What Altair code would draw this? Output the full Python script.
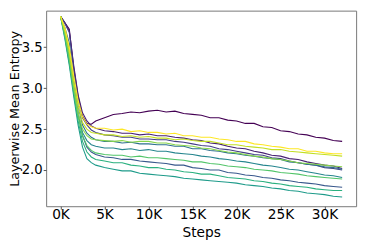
import altair as alt
import pandas as pd

# training steps (x positions of every sample)
steps = [0, 500, 1000, 1500, 2000, 2500, 3000, 3500, 4000,
         5000, 6000, 7000, 8000, 9000, 10000, 11000, 12000, 13000, 14000,
         15000, 16000, 17000, 18000, 19000, 20000, 21000, 22000, 23000, 24000,
         25000, 26000, 27000, 28000, 29000, 30000, 31000, 32000]

run_00 = [3.88, 3.80, 3.72, 3.25, 2.90, 2.66, 2.57, 2.56, 2.60,
          2.64, 2.68, 2.69, 2.71, 2.70, 2.72, 2.73, 2.71, 2.72, 2.69,
          2.68, 2.67, 2.64, 2.64, 2.61, 2.60, 2.57, 2.57, 2.53, 2.52,
          2.48, 2.47, 2.44, 2.43, 2.40, 2.39, 2.36, 2.35]
run_01 = [3.88, 3.80, 3.70, 3.28, 2.92, 2.70, 2.60, 2.54, 2.51,
          2.48, 2.47, 2.45, 2.45, 2.43, 2.44, 2.42, 2.42, 2.40, 2.39,
          2.37, 2.36, 2.33, 2.32, 2.29, 2.27, 2.26, 2.23, 2.21, 2.18,
          2.17, 2.14, 2.13, 2.10, 2.08, 2.06, 2.05, 2.02]
run_02 = [3.88, 3.79, 3.68, 3.22, 2.86, 2.64, 2.55, 2.49, 2.46,
          2.43, 2.42, 2.40, 2.40, 2.38, 2.38, 2.37, 2.37, 2.35, 2.34,
          2.32, 2.30, 2.29, 2.26, 2.25, 2.23, 2.21, 2.19, 2.18, 2.15,
          2.14, 2.11, 2.09, 2.07, 2.06, 2.03, 2.02, 2.00]
run_03 = [3.88, 3.70, 3.45, 3.05, 2.70, 2.42, 2.28, 2.22, 2.19,
          2.16, 2.15, 2.13, 2.13, 2.11, 2.10, 2.09, 2.08, 2.06, 2.06,
          2.03, 2.02, 2.00, 2.00, 1.97, 1.96, 1.94, 1.93, 1.91, 1.90,
          1.88, 1.87, 1.85, 1.84, 1.83, 1.81, 1.80, 1.79]
run_04 = [3.88, 3.74, 3.55, 3.12, 2.78, 2.55, 2.45, 2.40, 2.37,
          2.35, 2.35, 2.33, 2.34, 2.32, 2.32, 2.31, 2.31, 2.29, 2.29,
          2.26, 2.26, 2.24, 2.23, 2.21, 2.20, 2.18, 2.17, 2.15, 2.14,
          2.13, 2.10, 2.09, 2.07, 2.06, 2.04, 2.03, 2.01]
run_05 = [3.88, 3.66, 3.38, 3.00, 2.68, 2.46, 2.36, 2.31, 2.29,
          2.27, 2.27, 2.25, 2.26, 2.24, 2.25, 2.23, 2.23, 2.21, 2.20,
          2.19, 2.17, 2.16, 2.14, 2.13, 2.11, 2.10, 2.08, 2.06, 2.05,
          2.03, 2.01, 2.00, 1.98, 1.96, 1.94, 1.93, 1.91]
run_06 = [3.88, 3.60, 3.28, 2.90, 2.55, 2.28, 2.14, 2.09, 2.06,
          2.03, 2.01, 1.99, 1.99, 1.96, 1.95, 1.94, 1.93, 1.92, 1.90,
          1.89, 1.88, 1.87, 1.86, 1.85, 1.84, 1.82, 1.81, 1.80, 1.78,
          1.77, 1.75, 1.74, 1.72, 1.71, 1.70, 1.68, 1.67]
run_07 = [3.88, 3.62, 3.31, 2.94, 2.60, 2.35, 2.22, 2.16, 2.13,
          2.11, 2.09, 2.09, 2.06, 2.05, 2.03, 2.03, 2.01, 2.00, 1.98,
          1.97, 1.95, 1.95, 1.93, 1.91, 1.90, 1.89, 1.87, 1.86, 1.84,
          1.83, 1.81, 1.80, 1.79, 1.77, 1.76, 1.75, 1.75]
run_08 = [3.88, 3.64, 3.35, 2.98, 2.65, 2.42, 2.30, 2.24, 2.21,
          2.19, 2.18, 2.18, 2.16, 2.17, 2.15, 2.15, 2.14, 2.13, 2.12,
          2.10, 2.10, 2.08, 2.07, 2.05, 2.04, 2.03, 2.01, 2.00, 1.99,
          1.97, 1.96, 1.95, 1.93, 1.92, 1.91, 1.90, 1.89]
run_09 = [3.88, 3.68, 3.40, 3.02, 2.70, 2.50, 2.42, 2.38, 2.37,
          2.36, 2.35, 2.36, 2.34, 2.35, 2.35, 2.33, 2.33, 2.31, 2.30,
          2.29, 2.27, 2.26, 2.24, 2.22, 2.21, 2.19, 2.17, 2.16, 2.14,
          2.13, 2.11, 2.09, 2.08, 2.07, 2.06, 2.05, 2.04]
run_10 = [3.88, 3.70, 3.45, 3.08, 2.78, 2.58, 2.50, 2.46, 2.45,
          2.43, 2.43, 2.41, 2.42, 2.40, 2.41, 2.39, 2.39, 2.37, 2.38,
          2.36, 2.35, 2.35, 2.33, 2.31, 2.31, 2.29, 2.28, 2.27, 2.25,
          2.25, 2.23, 2.22, 2.21, 2.20, 2.19, 2.18, 2.17]
run_11 = [3.88, 3.74, 3.50, 3.15, 2.85, 2.65, 2.56, 2.53, 2.51,
          2.51, 2.49, 2.50, 2.47, 2.48, 2.46, 2.46, 2.44, 2.45, 2.42,
          2.42, 2.40, 2.40, 2.38, 2.37, 2.35, 2.35, 2.32, 2.31, 2.29,
          2.28, 2.26, 2.26, 2.23, 2.23, 2.21, 2.20, 2.20]

run_names = ["r00", "r01", "r02", "r03", "r04", "r05",
             "r06", "r07", "r08", "r09", "r10", "r11"]
run_colors = ["#440154", "#482173", "#433e85", "#38588c", "#2d708e", "#25858e",
              "#1e9b8a", "#2ab07f", "#52c569", "#86d549", "#c2df23", "#fde725"]
runs = [run_00, run_01, run_02, run_03, run_04, run_05,
        run_06, run_07, run_08, run_09, run_10, run_11]

x_ticks = [0, 5000, 10000, 15000, 20000, 25000, 30000]
y_ticks = [2.0, 2.5, 3.0, 3.5]

rows = []
for name, vals in zip(run_names, runs):
    assert len(vals) == len(steps), name
    for s, v in zip(steps, vals):
        rows.append({"step": s, "entropy": v, "run": name})
df = pd.DataFrame(rows)

chart = alt.Chart(df).mark_line(strokeWidth=1.1, clip=True).encode(
    x=alt.X("step:Q",
            scale=alt.Scale(domain=[-1633, 33589], nice=False, zero=False),
            axis=alt.Axis(values=x_ticks, labelExpr="datum.value / 1000 + 'K'",
                          title="Steps", grid=False, domain=False,
                          tickSize=3, labelBaseline="alphabetic", labelPadding=10,
                          titleBaseline="alphabetic", titleY=31,
                          labelFontSize=14, titleFontSize=14)),
    y=alt.Y("entropy:Q",
            scale=alt.Scale(domain=[1.558, 3.948], nice=False, zero=False),
            axis=alt.Axis(values=y_ticks, format=".1f",
                          title="Layerwise Mean Entropy", grid=False, domain=False,
                          tickSize=3, labelPadding=1,
                          labelFontSize=13.5, titleFontSize=13,
                          titleX=-32.5, titleY=100, titleAngle=270,
                          titleAlign="center", titleBaseline="middle")),
    color=alt.Color("run:N", scale=alt.Scale(domain=run_names, range=run_colors),
                    legend=None),
).properties(
    width=317, height=200,
    padding={"left": 39, "top": 0, "right": 6, "bottom": 39},
    autosize=alt.AutoSizeParams(type="none"),
).configure_view(
    stroke="#777", strokeWidth=1
).configure_axis(
    labelFont="DejaVu Sans", titleFont="DejaVu Sans",
    titleFontWeight="normal",
    labelColor="#000", titleColor="#000", tickColor="#555", tickWidth=1,
)

chart.save("out.html", embed_options={"renderer": "svg", "actions": False})
